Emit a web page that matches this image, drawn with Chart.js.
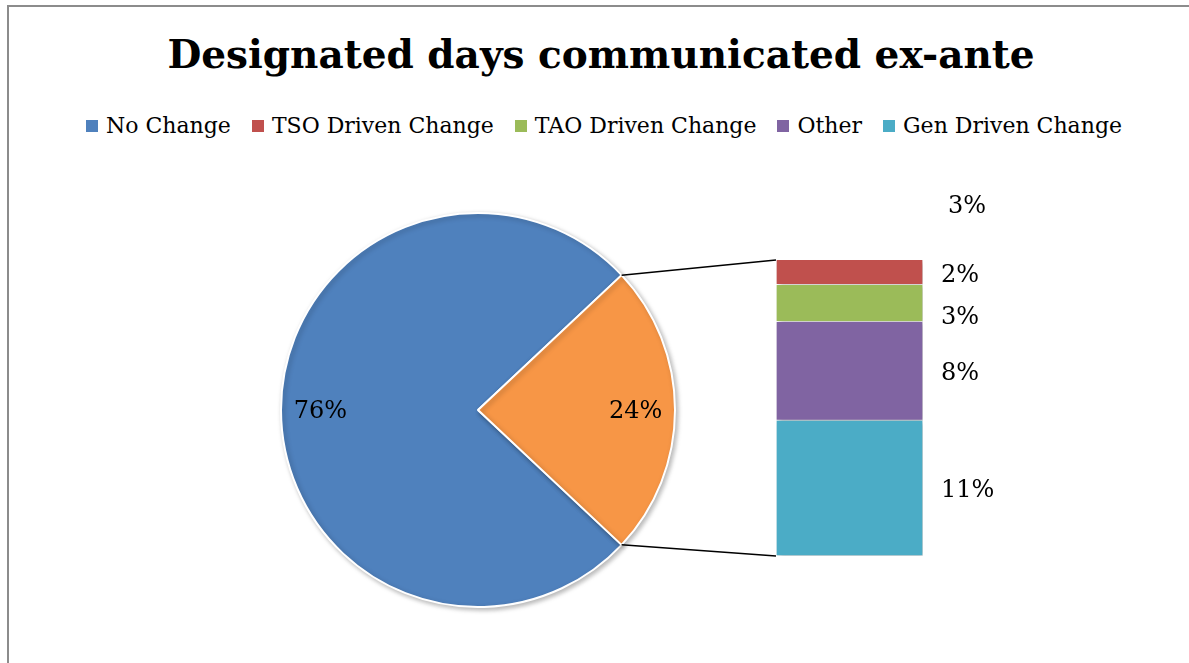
<!DOCTYPE html>
<html>
<head>
<meta charset="utf-8">
<title>Designated days communicated ex-ante</title>
<script src="https://cdn.jsdelivr.net/npm/chart.js@4.4.0/dist/chart.umd.min.js"></script>
<style>
    html, body { margin: 0; padding: 0; background: #fff; overflow: hidden; }
    #wrap { position: relative; width: 1189px; height: 663px; overflow: hidden; }
    #frame { position: absolute; left: 7px; top: 5px; width: 1182px; height: 658px;
             border-top: 2px solid #8c8c8c; border-left: 2px solid #8c8c8c; box-sizing: border-box; }
    #title { position: absolute; left: 13px; width: 1176px; top: 31px; text-align: center;
             font: bold 39px "DejaVu Serif"; line-height: 46px; color: #000; white-space: nowrap; }
    #legend { position: absolute; left: 19px; width: 1170px; top: 113px; display: flex;
              justify-content: center; font: 22px "DejaVu Serif"; line-height: 26px; color: #000; white-space: nowrap; }
    #legend span.item { display: flex; align-items: center; margin: 0 10.5px; }
    #legend span.box { width: 12px; height: 12px; margin-right: 8px; }
    canvas { position: absolute; left: 0; top: 0; }
</style>
</head>
<body>
<div id="wrap">
    <div id="frame"></div>
    <div id="title">Designated days communicated ex-ante</div>
    <div id="legend"></div>
    <canvas id="pie" width="1189" height="663"></canvas>
    <canvas id="bar" width="1189" height="663"></canvas>
</div>
<script>
// legend categories and colours
var categories = ['No Change', 'TSO Driven Change', 'TAO Driven Change', 'Other', 'Gen Driven Change'];
var colours = ['#4F81BD', '#C0504D', '#9BBB59', '#8064A2', '#4BACC6'];

// main pie: No Change vs. everything split out into the bar
var pieLabels = ['No Change', 'Other'];
var pieValues = [76, 24];
var pieColours = ['#4F81BD', '#F79646'];

// secondary bar, top to bottom
var barLabels = ['TSO Driven Change', 'TAO Driven Change', 'Other', 'Gen Driven Change'];
var barValues = [2, 3, 8, 11];
var barColours = ['#C0504D', '#9BBB59', '#8064A2', '#4BACC6'];

// stray data label that sits above the bar in the original
var extraLabels = ['3%'];

var labelFont = '24px "DejaVu Serif"';

// legend
var legendEl = document.getElementById('legend');
categories.forEach(function(name, i) {
    var item = document.createElement('span');
    item.className = 'item';
    var box = document.createElement('span');
    box.className = 'box';
    box.style.background = colours[i];
    item.appendChild(box);
    item.appendChild(document.createTextNode(name));
    legendEl.appendChild(item);
});

var shadow = {
    id: 'shadow',
    beforeDatasetsDraw: function(chart) {
        var ctx = chart.ctx;
        ctx.save();
        ctx.shadowColor = 'rgba(0,0,0,0.28)';
        ctx.shadowBlur = 5;
        ctx.shadowOffsetX = 2;
        ctx.shadowOffsetY = 2;
    },
    afterDatasetsDraw: function(chart) {
        chart.ctx.restore();
    }
};

var barTotal = barValues.reduce(function(a, b) { return a + b; }, 0);

var barChart = new Chart(document.getElementById('bar'), {
    type: 'bar',
    data: {
        labels: [''],
        datasets: barLabels.map(function(name, i) {
            return {
                label: name,
                data: [barValues[i]],
                backgroundColor: barColours[i],
                borderColor: '#ffffff',
                borderWidth: 1,
                barPercentage: 1,
                categoryPercentage: 1
            };
        })
    },
    options: {
        responsive: false,
        animation: false,
        layout: { padding: { left: 776, right: 266, top: 260, bottom: 107 } },
        scales: {
            x: { stacked: true, display: false },
            y: { stacked: true, display: false, reverse: true, min: 0, max: barTotal }
        },
        plugins: { legend: { display: false }, tooltip: { enabled: false } }
    },
    plugins: [shadow, {
        id: 'barLabels',
        afterDraw: function(chart) {
            var ctx = chart.ctx;
            ctx.save();
            ctx.font = labelFont;
            ctx.fillStyle = '#000';
            ctx.textBaseline = 'middle';
            ctx.textAlign = 'left';
            var top = null, right = 0, prevBottom = -1;
            chart.data.datasets.forEach(function(ds, i) {
                var el = chart.getDatasetMeta(i).data[0];
                var y0 = Math.min(el.y, el.base), y1 = Math.max(el.y, el.base);
                right = el.x + el.width / 2;
                if (top === null || y0 < top) top = y0;
                // keep small labels from crowding each other
                var y = Math.max((y0 + y1) / 2 + 3, prevBottom + 30);
                prevBottom = y + 12;
                ctx.fillText(ds.data[0] + '%', right + 18, y);
            });
            extraLabels.forEach(function(t) {
                ctx.fillText(t, right + 25, top - 53);
            });
            ctx.restore();
        }
    }]
});

var pieChart = new Chart(document.getElementById('pie'), {
    type: 'pie',
    data: {
        labels: pieLabels,
        datasets: [{
            data: pieValues,
            backgroundColor: pieColours,
            borderColor: '#ffffff',
            borderWidth: 2
        }]
    },
    options: {
        responsive: false,
        animation: false,
        rotation: 90 + pieValues[1] / 100 * 180,
        layout: { padding: { left: 280, right: 513, top: 212, bottom: 55 } },
        plugins: { legend: { display: false }, tooltip: { enabled: false } }
    },
    plugins: [shadow, {
        id: 'pieLabels',
        afterDraw: function(chart) {
            var ctx = chart.ctx;
            var arcs = chart.getDatasetMeta(0).data;
            ctx.save();
            ctx.font = labelFont;
            ctx.fillStyle = '#000';
            ctx.textAlign = 'center';
            ctx.textBaseline = 'middle';
            arcs.forEach(function(arc, i) {
                var mid = (arc.startAngle + arc.endAngle) / 2;
                var r = arc.outerRadius * 0.8;
                ctx.fillText(chart.data.datasets[0].data[i] + '%',
                    arc.x + Math.cos(mid) * r, arc.y + Math.sin(mid) * r + 2);
            });

            // connector lines from the split slice to the bar
            var split = arcs[1];
            var metas = barValues.map(function(v, i) { return barChart.getDatasetMeta(i).data[0]; });
            var first = metas[0], last = metas[metas.length - 1];
            var left = first.x - first.width / 2;
            var top = Math.min(first.y, first.base);
            var bottom = Math.max(last.y, last.base);
            ctx.strokeStyle = '#000';
            ctx.lineWidth = 1.5;
            ctx.beginPath();
            ctx.moveTo(split.x + Math.cos(split.startAngle) * split.outerRadius,
                       split.y + Math.sin(split.startAngle) * split.outerRadius);
            ctx.lineTo(left, top);
            ctx.moveTo(split.x + Math.cos(split.endAngle) * split.outerRadius,
                       split.y + Math.sin(split.endAngle) * split.outerRadius);
            ctx.lineTo(left, bottom);
            ctx.stroke();
            ctx.restore();
        }
    }]
});
</script>
</body>
</html>
